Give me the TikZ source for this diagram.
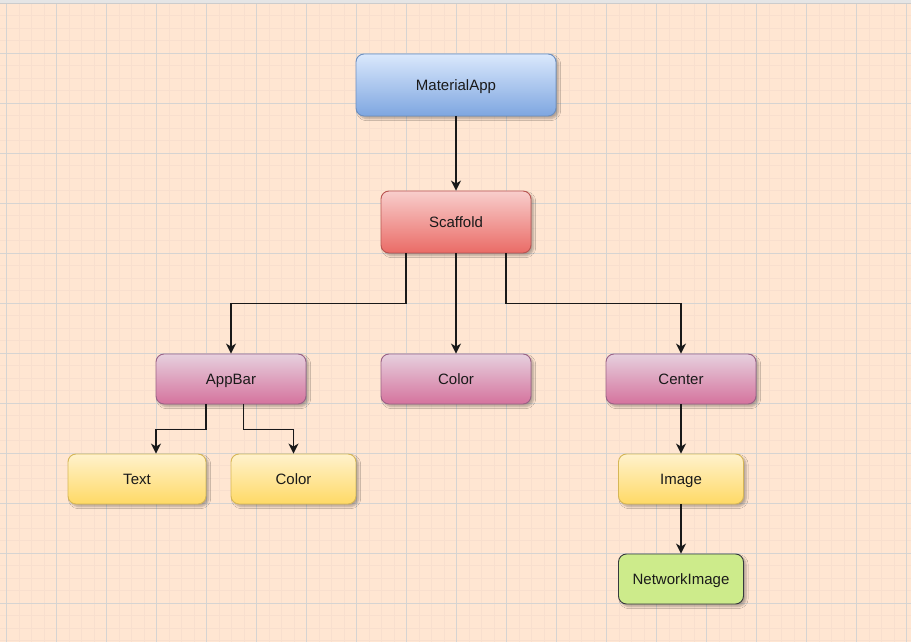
\documentclass[tikz,border=0pt]{standalone}
\usepackage{fontspec}
\setmainfont{Liberation Sans}
\usetikzlibrary{arrows.meta,shadows.blur}

\definecolor{paper}{HTML}{FFE6D2}
\definecolor{gridminor}{HTML}{F8DFCE}
\definecolor{gridmajor}{HTML}{D6D4D2}
\definecolor{inktext}{HTML}{1A1A1A}
\definecolor{blueTop}{HTML}{DAE8FC}
\definecolor{blueBot}{HTML}{7EA6E0}
\definecolor{blueLine}{HTML}{6C8EBF}
\definecolor{redTop}{HTML}{F8CECC}
\definecolor{redBot}{HTML}{EA6B66}
\definecolor{redLine}{HTML}{B85450}
\definecolor{pinkTop}{HTML}{E6D0DE}
\definecolor{pinkBot}{HTML}{D5739D}
\definecolor{pinkLine}{HTML}{996185}
\definecolor{yelTop}{HTML}{FFF2CC}
\definecolor{yelBot}{HTML}{FFD966}
\definecolor{yelLine}{HTML}{D6B656}
\definecolor{greenFill}{HTML}{CDEB8B}
\definecolor{greenLine}{HTML}{36393D}

\tikzset{
  box/.style={rounded corners=8pt, draw, line width=0.9pt, inner sep=0pt,
    minimum height=50pt, text=inktext, text height=14pt, text depth=2.6pt,
    font=\fontsize{15}{18}\selectfont,
    blur shadow={shadow xshift=2.5pt, shadow yshift=-2.5pt,
      shadow blur steps=6, shadow blur extra rounding=1.5pt, shadow opacity=30}},
  bluebox/.style={box, top color=blueTop, bottom color=blueBot, draw=blueLine},
  redbox/.style={box, top color=redTop, bottom color=redBot, draw=redLine},
  pinkbox/.style={box, top color=pinkTop, bottom color=pinkBot, draw=pinkLine},
  yellowbox/.style={box, top color=yelTop, bottom color=yelBot, draw=yelLine},
  greenbox/.style={box, fill=greenFill, draw=greenLine},
  arr/.style={line width=1.3pt, draw=black!90, -{Stealth[length=10pt,width=10pt,inset=3pt]}},
}

\begin{document}
\begin{tikzpicture}[x=1pt, y=-1pt]
  % canvas and page size
  \useasboundingbox (0,0) rectangle (911,642);
  \fill[paper] (0,0) rectangle (911,642);

  % background grid
  \begin{scope}
    \clip (0,3) rectangle (911,642);
    \foreach \i in {0,...,74} {
      \draw[gridminor, line width=0.8pt] ({-6+12.5*\i},0) -- ({-6+12.5*\i},642);
      \draw[gridminor, line width=0.8pt] (0,{-9.2+12.5*\i}) -- (911,{-9.2+12.5*\i});
    }
    \foreach \i in {0,...,19} {
      \draw[gridmajor, line width=0.8pt] ({6.5+50*\i},0) -- ({6.5+50*\i},642);
      \draw[gridmajor, line width=0.8pt] (0,{3.3+50*\i}) -- (911,{3.3+50*\i});
    }
  \end{scope}
  \fill[gray!20] (0,0) rectangle (911,3);
  \draw[gray!40, line width=0.6pt] (0,3) -- (911,3);

  % widget nodes
  \node[bluebox,   minimum width=200pt, minimum height=62pt] (ma)  at (456,85)    {MaterialApp};
  \node[redbox,    minimum width=150pt, minimum height=62pt] (sc)  at (456,222)   {Scaffold};
  \node[pinkbox,   minimum width=150pt] (ab)  at (231,379)   {AppBar};
  \node[pinkbox,   minimum width=150pt] (co1) at (456,379)   {Color};
  \node[pinkbox,   minimum width=150pt] (ce)  at (681,379)   {Center};
  \node[yellowbox, minimum width=138pt] (tx)  at (137,479)   {Text};
  \node[yellowbox, minimum width=125pt] (co2) at (293.5,479) {Color};
  \node[yellowbox, minimum width=125pt] (im)  at (681,479)   {Image};
  \node[greenbox,  minimum width=125pt] (ni)  at (681,579)   {NetworkImage};

  % parent-child connectors
  \draw[arr] (ma.south) -- (sc.north);
  \draw[arr] ([xshift=-50pt]sc.south) -- ++(0,50) -| (ab.north);
  \draw[arr] (sc.south) -- (co1.north);
  \draw[arr] ([xshift=50pt]sc.south) -- ++(0,50) -| (ce.north);
  \draw[arr] ([xshift=-25pt]ab.south) -- ++(0,25) -| ([xshift=19pt]tx.north);
  \draw[arr] ([xshift=12.5pt]ab.south) -- ++(0,25) -| (co2.north);
  \draw[arr] (ce.south) -- (im.north);
  \draw[arr] (im.south) -- (ni.north);
\end{tikzpicture}
\end{document}
